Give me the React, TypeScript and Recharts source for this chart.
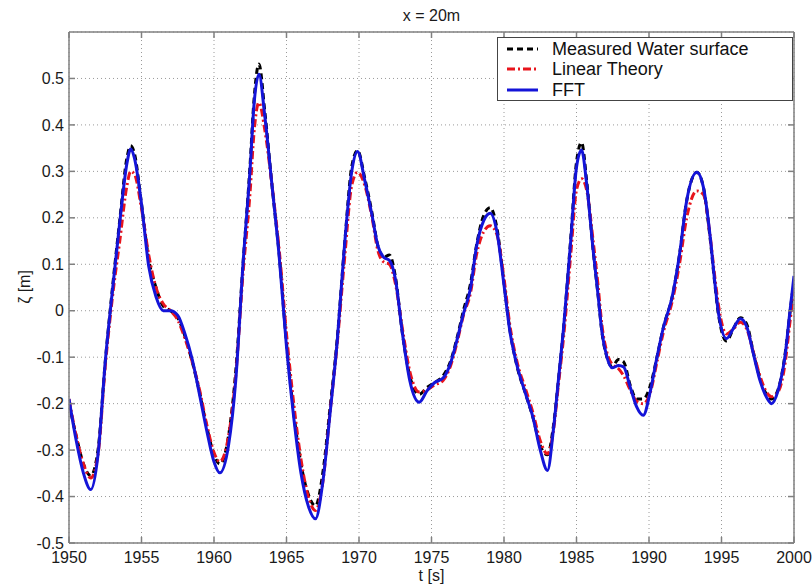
import { CartesianGrid, Label, Legend, Line, LineChart, XAxis, YAxis } from "recharts";

// time axis [s] (denser around peaks / troughs)
const times = [
  1950, 1950.5, 1951, 1951.5, 1952, 1952.5, 1953, 1953.5, 1954, 1954.25,
  1954.5, 1955, 1955.5, 1956, 1956.5, 1957, 1957.5, 1958, 1958.5, 1959,
  1959.5, 1960, 1960.4, 1961, 1961.5, 1962, 1962.5, 1962.75, 1963.1, 1963.5,
  1964, 1964.5, 1965, 1965.5, 1966, 1966.5, 1967, 1967.5, 1968, 1968.5,
  1969, 1969.5, 1969.9, 1970.4, 1970.9, 1971.3, 1971.7, 1972.1, 1972.5, 1973,
  1973.5, 1974.15, 1974.7, 1975.2, 1975.8, 1976.3, 1976.75, 1977.2, 1977.7, 1978.1,
  1978.6, 1979.05, 1979.5, 1980, 1980.4, 1980.9, 1981.5, 1982, 1982.5, 1983,
  1983.4, 1983.75, 1984.1, 1984.6, 1985, 1985.35, 1985.7, 1986.15, 1986.5, 1986.75,
  1987.1, 1987.45, 1987.9, 1988.25, 1988.7, 1989.15, 1989.6, 1990.1, 1990.55, 1991,
  1991.6, 1992.1, 1992.6, 1993.3, 1993.75, 1994.2, 1994.55, 1994.8, 1995.35, 1995.8,
  1996.3, 1996.75, 1997.2, 1997.65, 1998.1, 1998.45, 1998.9, 1999.4, 1999.7, 2000,
];

const fft = [
  -0.19, -0.28, -0.35, -0.385, -0.31, -0.11, 0.045, 0.19, 0.318, 0.348,
  0.33, 0.23, 0.095, 0.03, 0.0, 0.0, -0.01, -0.05, -0.105, -0.18,
  -0.258, -0.325, -0.349, -0.29, -0.15, 0.1, 0.31, 0.44, 0.509, 0.42,
  0.27, 0.115, -0.078, -0.23, -0.35, -0.42, -0.448, -0.37, -0.222, -0.065,
  0.14, 0.3, 0.343, 0.28, 0.205, 0.14, 0.115, 0.108, 0.07, -0.05,
  -0.15, -0.197, -0.172, -0.155, -0.145, -0.114, -0.064, -0.007, 0.05, 0.137,
  0.194, 0.21, 0.172, 0.055, -0.043, -0.118, -0.18, -0.23, -0.3, -0.344,
  -0.258, -0.15, -0.04, 0.15, 0.309, 0.346, 0.273, 0.13, 0.03, -0.045,
  -0.1, -0.123, -0.118, -0.121, -0.164, -0.207, -0.225, -0.172, -0.1, -0.035,
  0.03, 0.12, 0.237, 0.298, 0.266, 0.165, 0.058, -0.007, -0.06, -0.039,
  -0.017, -0.035, -0.093, -0.15, -0.186, -0.2, -0.172, -0.093, -0.007, 0.075,
];

const measured = [
  -0.2, -0.27, -0.33, -0.355, -0.3, -0.11, 0.05, 0.195, 0.33, 0.355,
  0.34, 0.23, 0.11, 0.05, 0.01, 0.0, -0.015, -0.055, -0.11, -0.175,
  -0.25, -0.31, -0.33, -0.27, -0.13, 0.1, 0.32, 0.45, 0.531, 0.43,
  0.27, 0.12, -0.07, -0.22, -0.33, -0.395, -0.42, -0.35, -0.21, -0.06,
  0.14, 0.31, 0.345, 0.285, 0.21, 0.14, 0.115, 0.12, 0.075, -0.05,
  -0.14, -0.18, -0.165, -0.155, -0.14, -0.11, -0.06, 0.0, 0.06, 0.14,
  0.205, 0.222, 0.18, 0.06, -0.04, -0.12, -0.18, -0.23, -0.29, -0.31,
  -0.25, -0.15, -0.04, 0.155, 0.32, 0.362, 0.28, 0.13, 0.03, -0.045,
  -0.1, -0.12, -0.105, -0.11, -0.16, -0.19, -0.19, -0.16, -0.1, -0.035,
  0.03, 0.12, 0.237, 0.298, 0.266, 0.16, 0.055, -0.01, -0.065, -0.04,
  -0.015, -0.03, -0.09, -0.145, -0.18, -0.19, -0.17, -0.09, -0.01, 0.065,
];

const linear = [
  -0.19, -0.27, -0.33, -0.36, -0.31, -0.12, 0.03, 0.15, 0.27, 0.3,
  0.295, 0.22, 0.12, 0.05, 0.015, 0.0, -0.02, -0.06, -0.11, -0.17,
  -0.245, -0.305, -0.325, -0.27, -0.14, 0.08, 0.26, 0.38, 0.448, 0.39,
  0.27, 0.13, -0.05, -0.2, -0.32, -0.4, -0.43, -0.37, -0.22, -0.07,
  0.11, 0.27, 0.298, 0.27, 0.2, 0.13, 0.105, 0.1, 0.06, -0.04,
  -0.13, -0.175, -0.17, -0.16, -0.15, -0.12, -0.07, -0.01, 0.04, 0.12,
  0.17, 0.183, 0.165, 0.07, -0.03, -0.11, -0.17, -0.22, -0.28, -0.308,
  -0.26, -0.16, -0.06, 0.12, 0.26, 0.284, 0.26, 0.15, 0.05, -0.03,
  -0.09, -0.115, -0.125, -0.14, -0.17, -0.195, -0.2, -0.175, -0.11, -0.045,
  0.02, 0.1, 0.2, 0.258, 0.25, 0.165, 0.07, 0.01, -0.05, -0.04,
  -0.025, -0.04, -0.09, -0.14, -0.175, -0.185, -0.175, -0.11, -0.03, 0.05,
];

const xTicks = [1950, 1955, 1960, 1965, 1970, 1975, 1980, 1985, 1990, 1995, 2000];
const yTicks = [-0.5, -0.4, -0.3, -0.2, -0.1, 0, 0.1, 0.2, 0.3, 0.4, 0.5];

const data = times.map((t, i) => ({
  t,
  measured: measured[i],
  linear: linear[i],
  fft: fft[i],
}));

const FONT = '"Liberation Sans", Arial, Helvetica, sans-serif';
const FRAME = "#808080";
const TEXT = "#1a1a1a";

const series = [
  { key: "measured", name: "Measured Water surface", color: "#000000", dash: "6 4" },
  { key: "linear", name: "Linear Theory", color: "#e8141c", dash: "8 3 2 3" },
  { key: "fft", name: "FFT", color: "#1414d8", dash: undefined as string | undefined },
];

function LegendBox() {
  return (
    <div
      style={{
        width: 296,
        height: 64,
        boxSizing: "border-box",
        border: "1px solid #444",
        background: "#fff",
        padding: "1px 0 0 9px",
        fontFamily: FONT,
        fontSize: 18,
        color: "#111",
      }}
    >
      {series.map((s) => (
        <div key={s.key} style={{ display: "flex", alignItems: "center", height: 20.3 }}>
          <svg width={31} height={10}>
            <line x1={0} y1={5} x2={31} y2={5} stroke={s.color} strokeWidth={3} strokeDasharray={s.dash} />
          </svg>
          <span style={{ marginLeft: 14, lineHeight: "20.3px", whiteSpace: "nowrap" }}>{s.name}</span>
        </div>
      ))}
    </div>
  );
}

const hiddenTick = () => <g />;

export default function App() {
  return (
    <div style={{ position: "absolute", left: 0, top: 0, width: 812, height: 586, background: "#fff" }}>
      <LineChart
        width={812}
        height={586}
        data={data}
        margin={{ top: 31, right: 17, bottom: 0, left: 0 }}
        style={{ fontFamily: FONT }}
      >
        <CartesianGrid stroke="#9a9a9a" strokeDasharray="1 3" />
        <XAxis
          dataKey="t"
          type="number"
          domain={[1950, 2000]}
          ticks={xTicks}
          allowDataOverflow
          height={43}
          stroke={FRAME}
          strokeWidth={1.5}
          tickSize={-6}
          tickMargin={15}
          tick={{ fill: TEXT, fontSize: 16 }}
        >
          <Label
            content={() => (
              <text x={431.5} y={581} textAnchor="middle" style={{ fontSize: 16 }} fill={TEXT}>
                t [s]
              </text>
            )}
          />
        </XAxis>
        <XAxis
          xAxisId="top"
          orientation="top"
          dataKey="t"
          type="number"
          domain={[1950, 2000]}
          ticks={xTicks}
          allowDataOverflow
          height={1}
          stroke={FRAME}
          strokeWidth={1.5}
          tickSize={-6}
          tick={hiddenTick}
        >
          <Label
            content={() => (
              <text x={431.5} y={21} textAnchor="middle" style={{ fontSize: 16 }} fill={TEXT}>
                x = 20m
              </text>
            )}
          />
        </XAxis>
        <YAxis
          type="number"
          domain={[-0.5, 0.6]}
          ticks={yTicks}
          allowDataOverflow
          width={69}
          stroke={FRAME}
          strokeWidth={1.5}
          tickSize={-6}
          tickMargin={11}
          tickFormatter={(v: number) => String(v)}
          tick={{ fill: TEXT, fontSize: 16 }}
        >
          <Label
            content={() => (
              <text
                x={0}
                y={0}
                transform="translate(30,287) rotate(-90)"
                textAnchor="middle"
                style={{ fontSize: 16 }}
                fill={TEXT}
              >
                ζ [m]
              </text>
            )}
          />
        </YAxis>
        <YAxis
          yAxisId="right"
          orientation="right"
          type="number"
          domain={[-0.5, 0.6]}
          ticks={yTicks}
          allowDataOverflow
          width={1}
          stroke={FRAME}
          strokeWidth={1.5}
          tickSize={-6}
          tick={hiddenTick}
        />
        {series.map((s) => (
          <Line
            key={s.key}
            type="monotone"
            dataKey={s.key}
            name={s.name}
            stroke={s.color}
            strokeWidth={3}
            strokeDasharray={s.dash}
            dot={false}
            activeDot={false}
            isAnimationActive={false}
          />
        ))}
        <Legend
          layout="horizontal"
          verticalAlign="middle"
          align="center"
          wrapperStyle={{ left: 497, top: 37, width: 296, height: 64 }}
          content={() => <LegendBox />}
        />
      </LineChart>
    </div>
  );
}
